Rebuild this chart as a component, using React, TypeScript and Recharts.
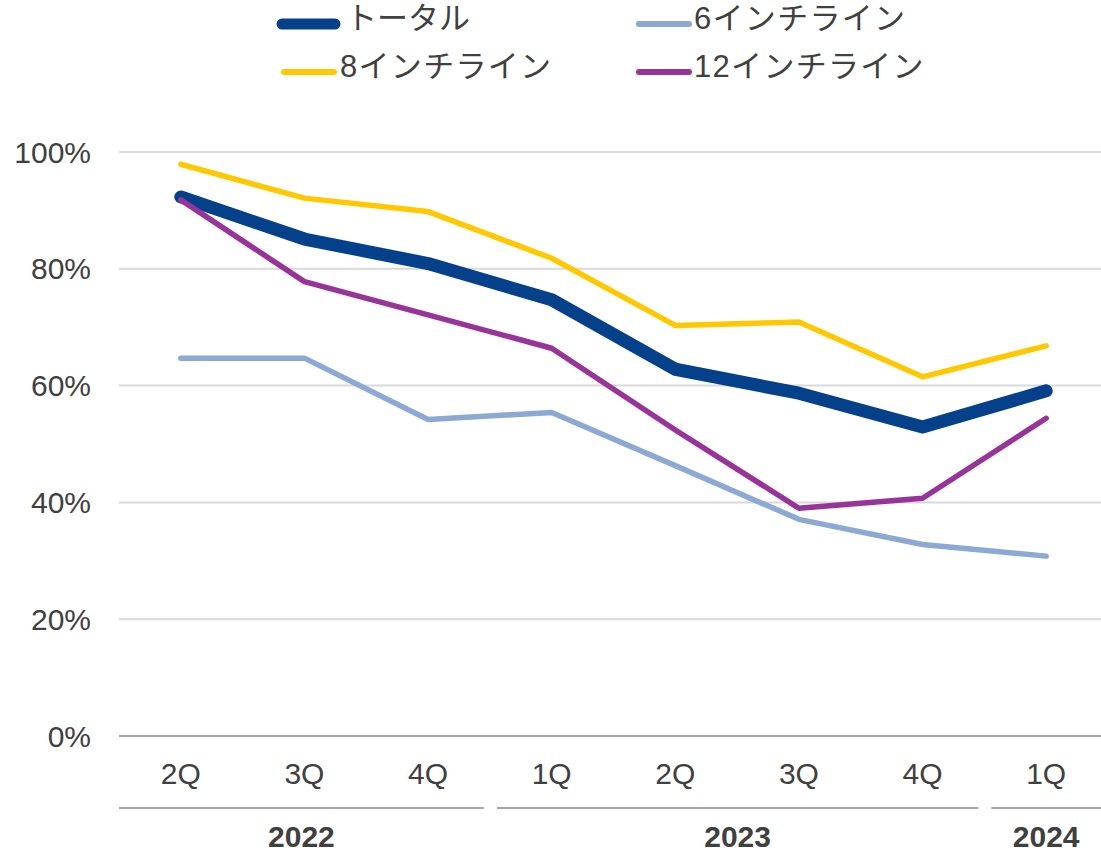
import { LineChart, Line, XAxis, YAxis, CartesianGrid, Legend } from 'recharts';

// ─── data ───────────────────────────────────────────────────
const quarters = ['2Q', '3Q', '4Q', '1Q', '2Q', '3Q', '4Q', '1Q'];
const years = ['2022', '2022', '2022', '2023', '2023', '2023', '2023', '2024'];

const total = [92.3, 85.1, 80.9, 74.7, 62.8, 58.7, 52.9, 59.1];
const inch6 = [64.7, 64.7, 54.2, 55.4, 46.3, 37.1, 32.8, 30.8];
const inch8 = [97.9, 92.1, 89.8, 81.8, 70.3, 70.9, 61.5, 66.8];
const inch12 = [91.8, 77.8, 72.1, 66.4, 52.4, 39.0, 40.7, 54.4];

const yTicks = [0, 20, 40, 60, 80, 100];

const series = [
  { key: 'total', name: 'トータル', color: '#05408A', width: 13 },
  { key: 'inch6', name: '6インチライン', color: '#8BA9D2', width: 5.5 },
  { key: 'inch8', name: '8インチライン', color: '#FFC800', width: 5.5 },
  { key: 'inch12', name: '12インチライン', color: '#983399', width: 5.5 },
];

const data = quarters.map((q, i) => ({
  id: `${years[i]}-${q}`,
  total: total[i],
  inch6: inch6[i],
  inch8: inch8[i],
  inch12: inch12[i],
}));

// ─── layout ─────────────────────────────────────────────────
const W = 1101;
const H = 853;
const CHART_W = 1108; // plot runs a little past the window edge, as in the original
const Y_AXIS_W = 119;
const BAND = (CHART_W - Y_AXIS_W) / quarters.length;
const FONT = '"Liberation Sans", Arial, "Noto Sans CJK JP", sans-serif';
const TEXT = '#404040';

// ─── x tick: quarter + year group ───────────────────────────
function QuarterTick({ x, y, index }: { x?: number; y?: number; index?: number }) {
  if (x == null || y == null || index == null) return null;
  const yr = years[index];
  const first = years.indexOf(yr);
  const last = years.lastIndexOf(yr);
  let group = null;
  if (index === first) {
    const left = x - BAND / 2 + (first === 0 ? 0 : 7);
    const right = x + (last - first) * BAND + BAND / 2 - (last === years.length - 1 ? 0 : 6);
    const mid = (left + Math.min(right, W)) / 2;
    group = (
      <g>
        <line x1={left} x2={right} y1={y + 72} y2={y + 72} stroke="#A6A6A6" strokeWidth={2} />
        <text x={mid} y={y + 111} textAnchor="middle"
          fontFamily={FONT} fontSize={30} fontWeight={700} fill={TEXT}>{yr}</text>
      </g>
    );
  }
  return (
    <g>
      <text x={x} y={y + 48} textAnchor="middle" fontFamily={FONT} fontSize={30} fill={TEXT}>
        {quarters[index]}
      </text>
      {group}
    </g>
  );
}

// ─── legend ─────────────────────────────────────────────────
// swatch start/end, row centre, text start
const legendPos = [
  { x1: 282, x2: 335, y: 24, tx: 346, thick: 11, ls: 0 },
  { x1: 639, x2: 689, y: 24, tx: 694, thick: 6, ls: 1.3 },
  { x1: 284, x2: 334, y: 72, tx: 340, thick: 6, ls: 1.3 },
  { x1: 639, x2: 689, y: 72, tx: 694, thick: 6, ls: 1.3 },
];

function ChartLegend() {
  return (
    <div style={{ position: 'relative', width: W, height: 100 }}>
      <svg width={W} height={100} style={{ position: 'absolute', left: 0, top: 0 }}>
        {series.map((s, i) => {
          const p = legendPos[i];
          return (
            <line key={s.key} x1={p.x1} x2={p.x2} y1={p.y} y2={p.y}
              stroke={s.color} strokeWidth={p.thick} strokeLinecap="round" />
          );
        })}
      </svg>
      {series.map((s, i) => {
        const p = legendPos[i];
        return (
          <span key={s.key} style={{
            position: 'absolute', left: p.tx, top: p.y - 25, height: 40,
            fontFamily: FONT, fontSize: 31, color: TEXT, lineHeight: '40px',
            letterSpacing: p.ls, whiteSpace: 'nowrap',
          }}>
            {s.name}
          </span>
        );
      })}
    </div>
  );
}

export default function App() {
  return (
    <div style={{ position: 'absolute', left: 0, top: 0, width: W, height: H, overflow: 'hidden', background: '#fff' }}>
      <LineChart width={CHART_W} height={H} data={data} margin={{ top: 152, right: 0, bottom: 0, left: 0 }}>
        <CartesianGrid vertical={false} stroke="#D9D9D9" strokeWidth={2} />
        <XAxis
          dataKey="id"
          interval={0}
          height={117}
          padding={{ left: BAND / 2, right: BAND / 2 }}
          tickLine={false}
          tickSize={0}
          tickMargin={0}
          axisLine={{ stroke: '#A6A6A6', strokeWidth: 2 }}
          tick={<QuarterTick />}
        />
        <YAxis
          width={Y_AXIS_W}
          domain={[0, 100]}
          ticks={yTicks}
          tickFormatter={(v: number) => `${v}%`}
          axisLine={false}
          tickLine={false}
          tickSize={0}
          tickMargin={28}
          tick={{ fontFamily: FONT, fontSize: 30, fill: TEXT }}
        />
        <Legend
          layout="horizontal"
          verticalAlign="middle"
          align="center"
          wrapperStyle={{ top: 0, left: 0 }}
          content={<ChartLegend />}
        />
        {series.map(s => (
          <Line
            key={s.key}
            dataKey={s.key}
            name={s.name}
            stroke={s.color}
            strokeWidth={s.width}
            strokeLinecap="round"
            strokeLinejoin="round"
            dot={false}
            activeDot={false}
            isAnimationActive={false}
          />
        ))}
      </LineChart>
    </div>
  );
}
